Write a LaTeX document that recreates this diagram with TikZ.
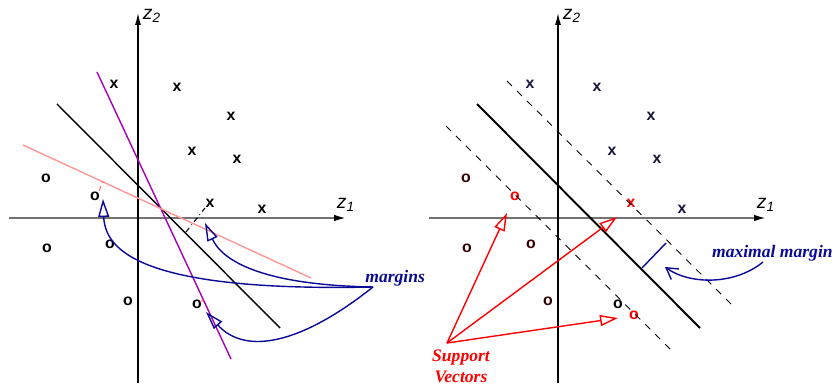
\documentclass[tikz,border=0pt]{standalone}
\usepackage{fontspec}
\setmainfont{Liberation Serif}
\setsansfont{Liberation Sans}
\usetikzlibrary{arrows.meta}
\definecolor{navyblue}{RGB}{10,10,150}
\definecolor{pinkline}{RGB}{255,150,150}
\definecolor{purpleline}{RGB}{170,0,180}
\definecolor{darkx}{RGB}{20,20,60}
\definecolor{darko}{RGB}{50,0,0}
\tikzstyle{pt} = [font=\sffamily\bfseries\fontsize{9}{9}\selectfont, inner sep=0pt]
\tikzstyle{axis} = [gray!90!black, line width=1.3pt, -{Latex[length=0.26cm, width=0.13cm, color=black]}]
\tikzstyle{vaxis} = [black, line width=0.7pt, -{Latex[length=0.24cm, width=0.12cm]}]
\tikzstyle{axlabel} = [font=\sffamily\itshape\fontsize{11}{11}\selectfont, inner sep=0pt]
\tikzstyle{note} = [font=\bfseries\itshape\fontsize{10}{12}\selectfont, align=center, inner sep=0pt]
\tikzstyle{hollow} = [-{Triangle[open, length=0.36cm, width=0.22cm]}]

\begin{document}
\begin{tikzpicture}[x=0.02cm, y=-0.02cm]
\useasboundingbox (0,0) rectangle (834,384);

% left: several separating lines
\coordinate (l1w) at (9,218);
\coordinate (l1e) at (347,218);
\coordinate (l2s) at (138,383);
\coordinate (l2n) at (138,13);
\draw [axis] (l1w) -- (l1e);
\draw [vaxis] (l2s) -- (l2n);
\node [axlabel] (lz1) at (346,205) {z\textsubscript{1}};
\node [axlabel] (lz2) at (152,16) {z\textsubscript{2}};

\node [pt] (lx1) at (114,84) {x};
\node [pt] (lx2) at (177,87) {x};
\node [pt] (lx3) at (231,116) {x};
\node [pt] (lx4) at (192,151) {x};
\node [pt] (lx5) at (237,159) {x};
\node [pt] (lx6) at (210,203) {x};
\node [pt] (lx7) at (262,209) {x};
\node [pt] (lo1) at (46,178) {o};
\node [pt] (lo2) at (95,196) {o};
\node [pt] (lo3) at (47,248) {o};
\node [pt] (lo4) at (110,244) {o};
\node [pt] (lo5) at (128,301) {o};
\node [pt] (lo6) at (197,304) {o};

\coordinate (blackA) at (57,104);
\coordinate (blackB) at (280,328);
\coordinate (purpA) at (97,72);
\coordinate (purpB) at (231,359);
\coordinate (pinkA) at (23,145);
\coordinate (pinkB) at (311,278);
\draw [line width=0.8pt] (blackA) -- (blackB);
\draw [purpleline, line width=0.8pt] (purpA) -- (purpB);
\draw [pinkline, line width=0.8pt] (pinkA) -- (pinkB);

\coordinate (gapA) at (186,232);
\coordinate (gapB) at (205,208);
\draw [dash dot, line width=0.6pt] (gapA) -- (gapB);
\coordinate (gapC) at (99,191);
\coordinate (gapD) at (103,181);
\draw [pinkline!80!red, densely dashed, line width=0.6pt] (gapC) -- (gapD);
\coordinate (gapE) at (200,302);
\coordinate (gapF) at (203,300);
\draw [pinkline!80!red, line width=0.6pt] (gapE) -- (gapF);

\node [note, navyblue, anchor=west] (margins) at (365,278) {margins};
\coordinate (mfoot) at (373,287);
\coordinate (tipo) at (103,199);
\coordinate (tipx) at (205,223);
\coordinate (tipb) at (206,312);
\draw [navyblue, line width=0.8pt, hollow] (mfoot) .. controls (140,292) and (105,250) .. (tipo);
\draw [navyblue, line width=0.8pt, hollow] (mfoot) .. controls (260,285) and (222,260) .. (tipx);
\draw [navyblue, line width=0.8pt, hollow] (mfoot) .. controls (300,345) and (245,355) .. (tipb);

% right: maximal margin
\coordinate (r1w) at (429,218);
\coordinate (r1e) at (767,218);
\coordinate (r2s) at (558,383);
\coordinate (r2n) at (558,13);
\draw [axis] (r1w) -- (r1e);
\draw [vaxis] (r2s) -- (r2n);
\node [axlabel] (rz1) at (766,205) {z\textsubscript{1}};
\node [axlabel] (rz2) at (572,16) {z\textsubscript{2}};

\node [pt, darkx] (rx1) at (530,84) {x};
\node [pt, darkx] (rx2) at (597,87) {x};
\node [pt, darkx] (rx3) at (651,116) {x};
\node [pt, darkx] (rx4) at (612,151) {x};
\node [pt, darkx] (rx5) at (657,159) {x};
\node [pt, red] (rx6) at (631,203) {x};
\node [pt, darkx] (rx7) at (682,209) {x};
\node [pt, darko] (ro1) at (466,178) {o};
\node [pt, red] (ro2) at (515,196) {o};
\node [pt, darko] (ro3) at (467,248) {o};
\node [pt, darko] (ro4) at (531,244) {o};
\node [pt, darko] (ro5) at (548,301) {o};
\node [pt, black] (ro6) at (618,304) {o};
\node [pt, red] (ro7) at (634,315) {o};

\coordinate (bestA) at (477,104);
\coordinate (bestB) at (700,328);
\coordinate (upA) at (507,81);
\coordinate (upB) at (731,304);
\coordinate (loA) at (446,126);
\coordinate (loB) at (670,349);
\draw [line width=1.1pt] (bestA) -- (bestB);
\draw [dashed, line width=0.5pt, dash pattern=on 4pt off 4pt] (upA) -- (upB);
\draw [dashed, line width=0.5pt, dash pattern=on 4pt off 4pt] (loA) -- (loB);

\coordinate (mgA) at (642,268);
\coordinate (mgB) at (666,243);
\draw [navyblue, line width=0.8pt] (mgA) -- (mgB);
\node [note, navyblue, anchor=east] (maxmargin) at (833,253) {maximal margin};
\coordinate (mmfoot) at (763,262);
\coordinate (mmtip) at (665,267);
\draw [navyblue, line width=0.8pt, -{Straight Barb[length=0.22cm, width=0.26cm]}] (mmfoot) .. controls (735,285) and (690,285) .. (mmtip);

\node [note, red] (support) at (461,366) {Support\\Vectors};
\coordinate (apex) at (447,343);
\coordinate (sv1) at (507,213);
\coordinate (sv2) at (617,217);
\coordinate (sv3) at (618,318);
\draw [red, line width=0.8pt, hollow] (apex) -- (sv1);
\draw [red, line width=0.8pt, hollow] (apex) -- (sv2);
\draw [red, line width=0.8pt, hollow] (apex) -- (sv3);

\end{tikzpicture}
\end{document}
